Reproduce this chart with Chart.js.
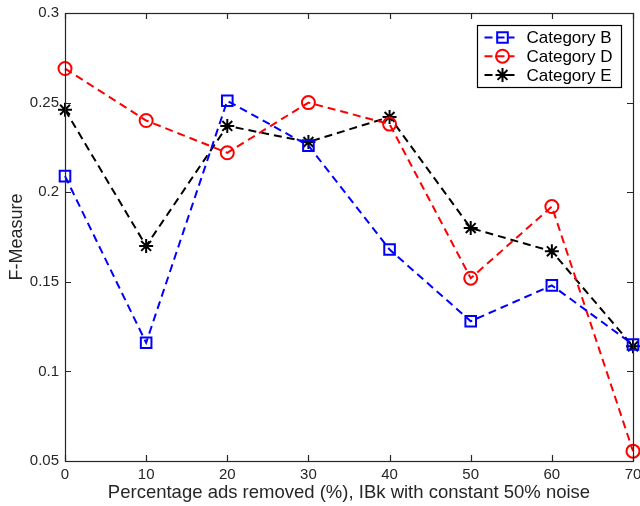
<!DOCTYPE html>
<html>
<head>
<meta charset="utf-8">
<script src="https://cdn.jsdelivr.net/npm/chart.js@4/dist/chart.umd.min.js"></script>
<style>
  html, body { margin: 0; padding: 0; background: #fff; }
  #wrap { width: 640px; height: 506px; }
</style>
</head>
<body>
<div id="wrap"><canvas id="fmChart" width="640" height="506"></canvas></div>
<script>
const xValues = [0, 10, 20, 30, 40, 50, 60, 70];
const categoryB = [0.209, 0.116, 0.251, 0.226, 0.168, 0.128, 0.148, 0.115];
const categoryD = [0.269, 0.240, 0.222, 0.250, 0.238, 0.152, 0.192, 0.0555];
const categoryE = [0.246, 0.170, 0.237, 0.228, 0.242, 0.180, 0.167, 0.114];
const seriesNames = ["Category B", "Category D", "Category E"];

const FONT = "'Liberation Sans', Arial, sans-serif";
const TEXT = "#262626";

function pts(vals) {
    return vals.map((v, i) => ({ x: xValues[i], y: v }));
}

function series(label, vals, color, style, radius) {
    return {
        label: label,
        data: pts(vals),
        borderColor: color,
        backgroundColor: "rgba(0,0,0,0)",
        borderWidth: 2,
        borderDash: [8, 5],
        pointStyle: style,
        pointRadius: radius,
        pointBorderColor: color,
        pointBackgroundColor: "rgba(0,0,0,0)",
        pointBorderWidth: 2,
        tension: 0,
        clip: false
    };
}

// box frame, inward ticks on all four sides, and the legend
const framePlugin = {
    id: "frame",
    afterDatasetsDraw(chart) {
        const { ctx, chartArea: a, scales } = chart;
        ctx.save();
        ctx.strokeStyle = TEXT;
        ctx.lineWidth = 1.2;
        ctx.strokeRect(a.left + 0.5, a.top + 0.5, a.right - a.left, a.bottom - a.top);
        const len = 6;
        ctx.beginPath();
        scales.x.ticks.forEach(t => {
            const px = Math.round(scales.x.getPixelForValue(t.value)) + 0.5;
            ctx.moveTo(px, a.bottom); ctx.lineTo(px, a.bottom - len);
            ctx.moveTo(px, a.top); ctx.lineTo(px, a.top + len);
        });
        scales.y.ticks.forEach(t => {
            const py = Math.round(scales.y.getPixelForValue(t.value)) + 0.5;
            ctx.moveTo(a.left, py); ctx.lineTo(a.left + len, py);
            ctx.moveTo(a.right, py); ctx.lineTo(a.right - len, py);
        });
        ctx.stroke();

        // legend
        const bx = 477.5, by = 25.5, bw = 144, bh = 62;
        ctx.fillStyle = "#fff";
        ctx.fillRect(bx, by, bw, bh);
        ctx.strokeStyle = "#000";
        ctx.lineWidth = 1.2;
        ctx.strokeRect(bx, by, bw, bh);
        ctx.font = "17px " + FONT;
        ctx.textBaseline = "middle";
        chart.data.datasets.forEach((ds, i) => {
            const y = by + 12 + i * 18.7;
            ctx.strokeStyle = ds.borderColor;
            ctx.lineWidth = 2;
            ctx.setLineDash([8, 4]);
            ctx.beginPath();
            ctx.moveTo(bx + 7, y); ctx.lineTo(bx + 37, y);
            ctx.stroke();
            ctx.setLineDash([]);
            ctx.fillStyle = "rgba(0,0,0,0)";
            Chart.helpers.drawPoint(ctx, {
                pointStyle: ds.pointStyle,
                radius: ds.pointRadius,
                borderWidth: 2,
                rotation: 0
            }, bx + 25, y);
            ctx.fillStyle = "#000";
            ctx.fillText(ds.label, bx + 49, y + 1);
        });
        ctx.restore();
    }
};

new Chart(document.getElementById("fmChart"), {
    type: "line",
    data: {
        datasets: [
            series(seriesNames[0], categoryB, "#0000ff", "rect", 7.5),
            series(seriesNames[1], categoryD, "#ff0000", "circle", 6.5),
            series(seriesNames[2], categoryE, "#000000", "star", 7)
        ]
    },
    options: {
        responsive: false,
        animation: false,
        layout: {
            autoPadding: false,
            padding: { left: 0, top: 13, right: 7, bottom: 0 }
        },
        plugins: {
            legend: { display: false },
            tooltip: { enabled: false }
        },
        scales: {
            x: {
                type: "linear",
                min: 0,
                max: 70,
                grid: { display: false, drawTicks: false },
                border: { display: false },
                ticks: {
                    stepSize: 10,
                    padding: 5,
                    color: TEXT,
                    font: { family: FONT, size: 15 },
                    maxRotation: 0
                },
                title: {
                    display: true,
                    text: "Percentage ads removed (%), IBk with constant 50% noise",
                    color: TEXT,
                    font: { family: FONT, size: 18.5 },
                    padding: { top: 0, bottom: 2 }
                },
                afterFit(scale) {
                    scale.height = 45;
                    scale.paddingLeft = 0;
                    scale.paddingRight = 0;
                }
            },
            y: {
                min: 0.05,
                max: 0.3,
                grid: { display: false, drawTicks: false },
                border: { display: false },
                ticks: {
                    stepSize: 0.05,
                    padding: 6,
                    color: TEXT,
                    font: { family: FONT, size: 15 },
                    callback: v => String(+v.toFixed(2))
                },
                title: {
                    display: true,
                    text: "F-Measure",
                    color: TEXT,
                    font: { family: FONT, size: 18 },
                    padding: { top: 6, bottom: 2 }
                },
                afterFit(scale) {
                    scale.width = 65;
                    scale.paddingTop = 0;
                    scale.paddingBottom = 0;
                }
            }
        }
    },
    plugins: [framePlugin]
});
</script>
</body>
</html>
